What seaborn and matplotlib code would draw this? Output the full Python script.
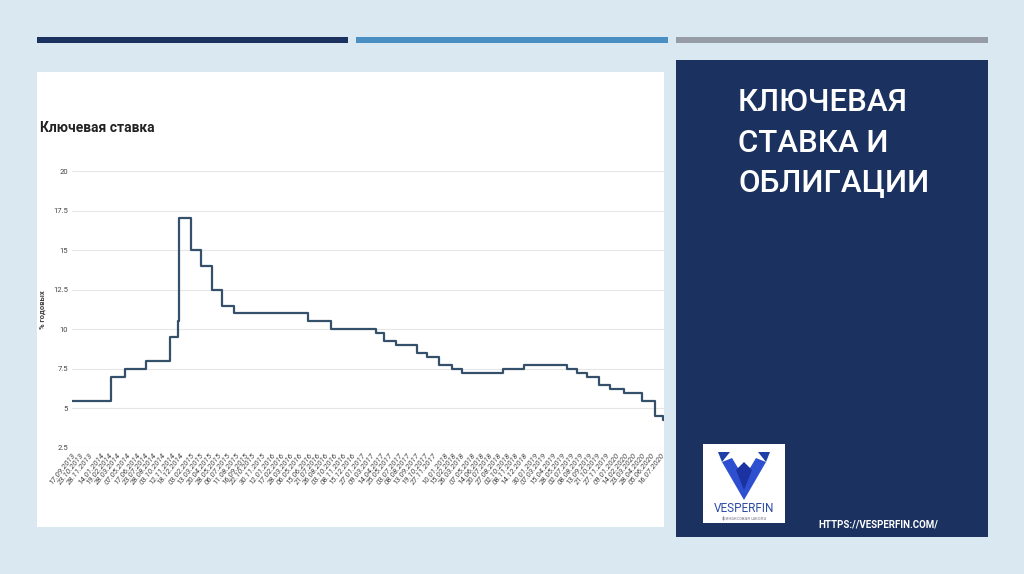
import pandas as pd
import matplotlib.pyplot as plt
import matplotlib.patches as mpatches
import seaborn as sns

# Key rate of the Bank of Russia: date of change -> rate, % per year
change_dates = [
    "17.09.2013", "03.03.2014", "28.04.2014", "28.07.2014", "05.11.2014",
    "12.12.2014", "16.12.2014", "02.02.2015", "16.03.2015", "05.05.2015",
    "16.06.2015", "03.08.2015", "14.06.2016", "19.09.2016", "27.03.2017",
    "02.05.2017", "19.06.2017", "18.09.2017", "30.10.2017", "18.12.2017",
    "12.02.2018", "26.03.2018", "17.09.2018", "17.12.2018", "17.06.2019",
    "29.07.2019", "09.09.2019", "28.10.2019", "16.12.2019", "10.02.2020",
    "27.04.2020", "22.06.2020", "27.07.2020", "30.07.2020",
]
rates = [
    5.5, 7.0, 7.5, 8.0, 9.5,
    10.5, 17.0, 15.0, 14.0, 12.5,
    11.5, 11.0, 10.5, 10.0, 9.75,
    9.25, 9.0, 8.5, 8.25, 7.75,
    7.5, 7.25, 7.5, 7.75, 7.5,
    7.25, 7.0, 6.5, 6.25, 6.0,
    5.5, 4.5, 4.25, 4.25,
]

tick_dates = [
    "17.09.2013", "23.10.2013", "28.11.2013",
    "14.01.2014", "19.02.2014", "28.03.2014", "07.05.2014", "17.06.2014",
    "23.07.2014", "28.08.2014", "03.10.2014", "12.11.2014", "18.12.2014",
    "03.02.2015", "13.03.2015", "20.04.2015", "28.05.2015", "06.07.2015",
    "11.08.2015", "16.09.2015", "22.10.2015", "30.11.2015",
    "12.01.2016", "17.02.2016", "28.03.2016", "06.05.2016", "15.06.2016",
    "21.07.2016", "26.08.2016", "03.10.2016", "08.11.2016", "15.12.2016",
    "27.01.2017", "09.03.2017", "14.04.2017", "25.05.2017", "03.07.2017",
    "08.08.2017", "13.09.2017", "19.10.2017", "27.11.2017",
    "10.01.2018", "15.02.2018", "26.03.2018", "07.05.2018", "14.06.2018",
    "20.07.2018", "27.08.2018", "02.10.2018", "08.11.2018", "14.12.2018",
    "30.01.2019", "07.03.2019", "15.04.2019", "28.05.2019", "02.07.2019",
    "08.08.2019", "13.09.2019", "21.10.2019", "27.11.2019",
    "09.01.2020", "14.02.2020", "23.03.2020", "28.04.2020", "05.06.2020",
    "16.07.2020",
]
y_ticks = [2.5, 5, 7.5, 10, 12.5, 15, 17.5, 20]

df = pd.DataFrame({"date": pd.to_datetime(change_dates, format="%d.%m.%Y"), "rate": rates})
ticks = pd.to_datetime(tick_dates, format="%d.%m.%Y")

W, H = 1024, 574
sns.set_theme(style="whitegrid")
plt.rcParams["font.family"] = ["Roboto", "DejaVu Sans"]
fig = plt.figure(figsize=(W / 100, H / 100), dpi=100)
fig.patch.set_facecolor("#d9e8f1")


def rect(x0, y0, x1, y1, color):
    # pixel box, origin top-left
    fig.add_artist(mpatches.Rectangle((x0 / W, 1 - y1 / H), (x1 - x0) / W, (y1 - y0) / H,
                                      transform=fig.transFigure, color=color, lw=0, zorder=0))


def poly(points, color):
    fig.add_artist(mpatches.Polygon([(x / W, 1 - y / H) for x, y in points],
                                    transform=fig.transFigure, color=color, lw=0, zorder=2))


# slide decoration
rect(37, 37, 348, 43, "#1b3260")
rect(356, 37, 668, 43, "#4a8fc4")
rect(676, 37, 988, 43, "#979da6")
rect(37, 72, 664, 527, "white")
rect(676, 60, 988, 537, "#1b3260")

fig.text(40 / W, 1 - 128 / H, "Ключевая ставка", fontsize=10, fontweight="bold",
         color="#222222", va="center", ha="left")

ax = fig.add_axes([72 / W, 1 - 448 / H, 592 / W, 277 / H])
ax.set_facecolor("none")
sns.lineplot(data=df, x="date", y="rate", ax=ax, drawstyle="steps-post",
             color="#35506a", linewidth=1.6)
ax.set_xlim(df["date"].iloc[0], df["date"].iloc[-1])
ax.set_ylim(2.5, 20)
ax.set_yticks(y_ticks)
ax.set_yticklabels([f"{v:g}" for v in y_ticks], fontsize=5.5, color="#444444")
ax.set_xticks(ticks)
ax.set_xticklabels([t.strftime("%d.%m.%Y") for t in ticks], rotation=52, ha="right",
                   rotation_mode="anchor", fontsize=5.6, color="#444444", style="italic")
ax.tick_params(axis="both", length=0, pad=3)
ax.grid(axis="x", visible=False)
ax.grid(axis="y", color="#e6e6e6", linewidth=0.8)
ax.set_xlabel("")
ax.set_ylabel("% годовых", fontsize=5.5, color="#444444", labelpad=5, fontweight="bold")
for s in ax.spines.values():
    s.set_visible(False)

# right panel
fig.text(738 / W, 1 - 143 / H, "КЛЮЧЕВАЯ\nСТАВКА И\nОБЛИГАЦИИ", fontsize=22.5, color="white",
         ha="left", va="center", linespacing=1.48, fontweight="medium")

# logo
rect(703, 444, 785, 523, "white")
poly([(718, 452), (730, 452), (722, 462)], "#1f3fa8")
poly([(758, 452), (770, 452), (766, 462)], "#1f3fa8")
poly([(722, 462), (732, 458), (744, 478), (756, 458), (766, 462), (744, 500)], "#2d4fd0")
poly([(736, 470), (744, 462), (752, 470), (744, 490)], "#1b33a0")
fig.text(744 / W, 1 - 509 / H, "VESPERFIN", fontsize=8.5, color="#2b4aa8", ha="center", va="center")
fig.text(744 / W, 1 - 518 / H, "финансовая школа", fontsize=3.5, color="#8a8a9a", ha="center", va="center")
fig.text(818 / W, 1 - 524 / H, "HTTPS://VESPERFIN.COM/", fontsize=7, fontweight="bold",
         color="white", ha="left", va="center")

plt.savefig("out.png", dpi=100, facecolor=fig.get_facecolor())
